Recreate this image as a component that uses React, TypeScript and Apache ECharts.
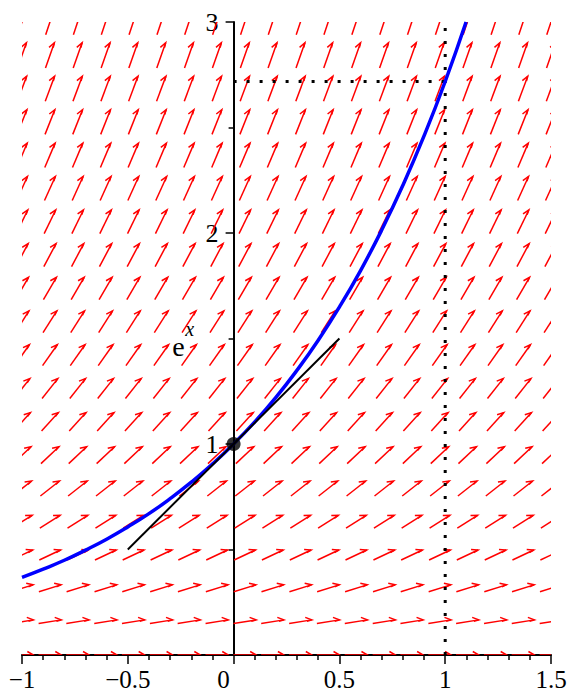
import React, { useEffect, useRef } from "react";
import * as echarts from "echarts";

// Direction-field grid (20 x 20) for y' = y
const fieldX = [-1, -0.868, -0.737, -0.605, -0.474, -0.342, -0.211, -0.079, 0.053, 0.184, 0.316, 0.447, 0.579, 0.711, 0.842, 0.974, 1.105, 1.237, 1.368, 1.5];
const fieldY = [0, 0.158, 0.316, 0.474, 0.632, 0.789, 0.947, 1.105, 1.263, 1.421, 1.579, 1.737, 1.895, 2.053, 2.211, 2.368, 2.526, 2.684, 2.842, 3];
const cellX = 0.1316;
const cellY = 0.1579;

// Solution curve e^x
const curveX = [-1, -0.9, -0.8, -0.7, -0.6, -0.5, -0.4, -0.3, -0.2, -0.1, 0, 0.1, 0.2, 0.3, 0.4, 0.5, 0.6, 0.7, 0.8, 0.9, 1.0, 1.0986];
const curveY = [0.368, 0.407, 0.449, 0.497, 0.549, 0.607, 0.670, 0.741, 0.819, 0.905, 1, 1.105, 1.221, 1.350, 1.492, 1.649, 1.822, 2.014, 2.226, 2.460, 2.718, 3.0];

// Tangent line at (0, 1)
const tangentX = [-0.5, 0.5];
const tangentY = [0.5, 1.5];

// Point of tangency
const pointX = [0];
const pointY = [1];

// Dotted guides at x = 1, y = e
const guideVX = [1, 1];
const guideVY = [0, 3];
const guideHX = [0, 1];
const guideHY = [2.718, 2.718];

// Curve label position
const labelPos = [-0.29, 1.46];

const xTicks = { min: -1, max: 1.5, interval: 0.5 };
const yTicks = { min: 0, max: 3, interval: 1 };

const FONT = "Liberation Serif";

function zip(a: number[], b: number[]) {
  return a.map((v, i) => [v, b[i]]);
}

export default function App() {
  const ref = useRef<HTMLDivElement>(null);
  useEffect(() => {
    if (!ref.current) return;
    const chart = echarts.init(ref.current, null, { renderer: "svg" });

    const fieldData: number[][] = [];
    fieldY.forEach((y) => fieldX.forEach((x) => fieldData.push([x, y])));

    const L = 0.82;
    const arrowItem = (params: any, api: any) => {
      const x = api.value(0);
      const y = api.value(1);
      const c = api.coord([x, y]);
      const cell = api.size([cellX, cellY]);
      const unit = api.size([1, 1]);
      const slope = y;
      let u = unit[0] / cell[0];
      let v = (slope * unit[1]) / cell[1];
      const n = Math.hypot(u, v);
      u = (u / n) * L;
      v = (v / n) * L;
      const dx = u * cell[0];
      const dy = -v * cell[1];
      const start = [c[0] - dx / 2, c[1] - dy / 2];
      const tip = [c[0] + dx / 2, c[1] + dy / 2];
      const len = Math.hypot(dx, dy);
      const bx = -dx / len;
      const by = -dy / len;
      const rot = (a: number, l: number) => {
        const r = (a * Math.PI) / 180;
        return [tip[0] + (bx * Math.cos(r) - by * Math.sin(r)) * l, tip[1] + (bx * Math.sin(r) + by * Math.cos(r)) * l];
      };
      const b1 = rot(30, 7);
      const b2 = rot(-6, 5);
      const style = { stroke: "#ff0000", lineWidth: 1.5, fill: null as any };
      return {
        type: "group",
        children: [
          { type: "polyline", shape: { points: [start, tip] }, style },
          { type: "polyline", shape: { points: [b1, tip, b2] }, style },
        ],
      };
    };

    const labelItem = (params: any, api: any) => {
      const c = api.coord([api.value(0), api.value(1)]);
      return {
        type: "group",
        children: [
          {
            type: "text",
            x: c[0],
            y: c[1],
            style: { text: "e", fontSize: 28, fontFamily: FONT, fill: "#000", align: "left", verticalAlign: "middle" },
          },
          {
            type: "text",
            x: c[0] + 13,
            y: c[1] - 18,
            style: { text: "x", fontSize: 20, fontStyle: "italic", fontFamily: FONT, fill: "#000", align: "left", verticalAlign: "middle" },
          },
        ],
      };
    };

    const axisCommon = {
      type: "value" as const,
      splitLine: { show: false },
      minorSplitLine: { show: false },
    };

    const buildOption = (yOffset: number) => ({
      animation: false,
      backgroundColor: "#fff",
      grid: { left: 22, right: 19, top: 22, bottom: 38, containLabel: false, outerBoundsMode: "none" },
      xAxis: {
        ...axisCommon,
        min: xTicks.min,
        max: xTicks.max,
        interval: xTicks.interval,
        axisLine: { show: true, onZero: false, lineStyle: { color: "#000", width: 2 } },
        axisTick: { show: true, length: 9, lineStyle: { color: "#000", width: 1.5 } },
        minorTick: { show: true, splitNumber: 5, length: 5, lineStyle: { color: "#000", width: 1.5 } },
        axisLabel: {
          show: true,
          margin: 15,
          lineHeight: 18,
          hideOverlap: false,
          showMinLabel: true,
          showMaxLabel: true,
          color: "#000",
          fontSize: 25,
          fontFamily: FONT,
          formatter: (v: number) => (v === 0 ? "{z|0}" : v < 0 ? "\u2212" + Math.abs(v) : String(v)),
          rich: { z: { fontSize: 25, lineHeight: 18, fontFamily: FONT, color: "#000", padding: [0, 20, 0, 0] } },
        },
      },
      yAxis: {
        ...axisCommon,
        min: yTicks.min,
        max: yTicks.max,
        interval: yTicks.interval,
        offset: yOffset,
        axisLine: { show: true, onZero: false, lineStyle: { color: "#000", width: 2 } },
        axisTick: { show: true, length: 8, lineStyle: { color: "#000", width: 1.5 } },
        minorTick: { show: true, splitNumber: 2, length: 5, lineStyle: { color: "#000", width: 1.5 } },
        axisLabel: {
          show: true,
          margin: 15,
          hideOverlap: false,
          showMinLabel: true,
          showMaxLabel: true,
          color: "#000",
          fontSize: 26,
          fontFamily: FONT,
          formatter: (v: number) => (v === 0 ? "" : String(v)),
        },
      },
      series: [
        {
          type: "custom",
          name: "field",
          data: fieldData,
          renderItem: arrowItem,
          clip: true,
          z: 1,
          silent: true,
        },
        {
          type: "line",
          data: zip(guideVX, guideVY),
          showSymbol: false,
          lineStyle: { color: "#000", width: 3, type: [3, 10], cap: "butt" },
          z: 2,
          silent: true,
        },
        {
          type: "line",
          data: zip(guideHX, guideHY),
          showSymbol: false,
          lineStyle: { color: "#000", width: 3, type: [3, 10], cap: "butt" },
          z: 2,
          silent: true,
        },
        {
          type: "line",
          data: zip(curveX, curveY),
          showSymbol: false,
          smooth: true,
          clip: true,
          lineStyle: { color: "#0000ff", width: 3.5 },
          z: 3,
          silent: true,
        },
        {
          type: "line",
          data: zip(tangentX, tangentY),
          showSymbol: false,
          lineStyle: { color: "#000", width: 2 },
          z: 4,
          silent: true,
        },
        {
          type: "scatter",
          data: zip(pointX, pointY),
          symbolSize: 14,
          itemStyle: { color: "#000" },
          z: 5,
          silent: true,
        },
        {
          type: "custom",
          data: [labelPos],
          renderItem: labelItem,
          clip: false,
          z: 6,
          silent: true,
        },
      ],
    });

    chart.setOption(buildOption(0));
    // Place the y-axis on x = 0 (the y-axis crosses the x-axis at the origin)
    const px0 = chart.convertToPixel({ xAxisIndex: 0 }, 0) as number;
    const pxMin = chart.convertToPixel({ xAxisIndex: 0 }, xTicks.min) as number;
    chart.setOption(buildOption(-(px0 - pxMin)));

    return () => chart.dispose();
  }, []);

  return (
    <div
      ref={ref}
      style={{ position: "absolute", left: 0, top: 0, width: 570, height: 693, background: "#fff" }}
    />
  );
}
